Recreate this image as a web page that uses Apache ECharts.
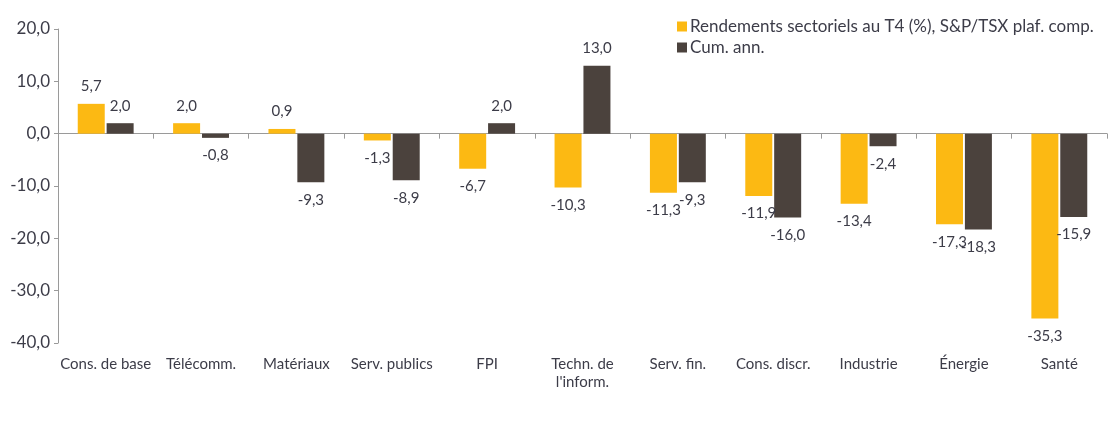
<!DOCTYPE html>
<html>
<head>
<meta charset="utf-8">
<script src="https://cdn.jsdelivr.net/npm/echarts@6/dist/echarts.min.js"></script>
<style>
  html, body { margin: 0; padding: 0; background: #fff; }
  #chart { width: 1108px; height: 437px; }
</style>
</head>
<body>
<div id="chart"></div>
<script>
const categories = [
  "Cons. de base", "Télécomm.", "Matériaux", "Serv. publics", "FPI",
  "Techn. de\nl'inform.", "Serv. fin.", "Cons. discr.", "Industrie", "Énergie", "Santé"
];
const quarterReturns = [5.7, 2.0, 0.9, -1.3, -6.7, -10.3, -11.3, -11.9, -13.4, -17.3, -35.3];
const ytdReturns = [2.0, -0.8, -9.3, -8.9, 2.0, 13.0, -9.3, -16.0, -2.4, -18.3, -15.9];
const yTicks = { min: -40, max: 20, interval: 10 };

const fmt = (v) => v.toFixed(1).replace(".", ",");
const textColor = "#3c3c48";
const font = "Lato";

const chart = echarts.init(document.getElementById("chart"));

const labelFor = (data) => data.map((v) => ({
  value: v,
  label: { position: v >= 0 ? "top" : "bottom" },
}));

chart.setOption({
  animation: false,
  textStyle: { fontFamily: font, color: textColor },
  grid: { left: 58, right: 1, top: 29, bottom: 94, containLabel: false },
  legend: {
    orient: "vertical",
    left: 672,
    top: 13,
    itemWidth: 10,
    itemHeight: 10,
    itemGap: 4,
    icon: "rect",
    textStyle: { fontFamily: font, fontSize: 17, color: textColor, padding: [0, 0, 0, -2] },
    data: ["Rendements sectoriels au T4 (%), S&P/TSX plaf. comp.", "Cum. ann."],
  },
  xAxis: [
    {
      type: "category",
      data: categories,
      axisLine: { onZero: true, lineStyle: { color: "#9a9a9a", width: 1 } },
      axisTick: { show: true, length: 5, lineStyle: { color: "#9a9a9a" } },
      axisLabel: { show: false },
    },
    {
      type: "category",
      data: categories,
      position: "bottom",
      offset: 0,
      axisLine: { show: false, onZero: false },
      axisTick: { show: false },
      axisLabel: {
        margin: 12,
        fontFamily: font,
        fontSize: 15,
        color: textColor,
        lineHeight: 18,
        interval: 0,
      },
    },
  ],
  yAxis: {
    type: "value",
    min: yTicks.min,
    max: yTicks.max,
    interval: yTicks.interval,
    splitLine: { show: false },
    axisLine: { show: true, lineStyle: { color: "#9a9a9a" } },
    axisTick: { show: true, length: 4, lineStyle: { color: "#9a9a9a" } },
    axisLabel: {
      formatter: fmt,
      fontFamily: font,
      fontSize: 17,
      color: textColor,
      margin: 8,
    },
  },
  series: [
    {
      name: "Rendements sectoriels au T4 (%), S&P/TSX plaf. comp.",
      type: "bar",
      xAxisIndex: 0,
      data: labelFor(quarterReturns),
      barWidth: 27,
      barGap: "7%",
      itemStyle: { color: "#fcb913" },
      label: {
        show: true,
        distance: 10,
        fontFamily: font,
        fontSize: 15,
        color: textColor,
        formatter: (p) => fmt(p.value),
      },
    },
    {
      name: "Cum. ann.",
      type: "bar",
      xAxisIndex: 0,
      data: labelFor(ytdReturns),
      barWidth: 27,
      barGap: "7%",
      itemStyle: { color: "#4b423d" },
      label: {
        show: true,
        distance: 10,
        fontFamily: font,
        fontSize: 15,
        color: textColor,
        formatter: (p) => fmt(p.value),
      },
    },
  ],
});
</script>
</body>
</html>
